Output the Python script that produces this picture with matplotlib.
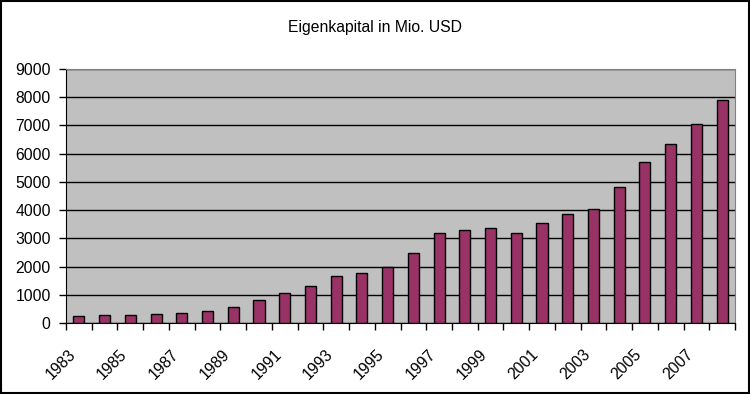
import numpy as np
import matplotlib
matplotlib.use("Agg")
import matplotlib.pyplot as plt
import matplotlib.transforms as mtransforms
from matplotlib.patches import Rectangle

years = list(range(1983, 2009))
equity = [260, 300, 300, 330, 370, 440, 580, 800, 1050, 1330,
          1650, 1760, 1990, 2480, 3190, 3300, 3370, 3190, 3550, 3870,
          4050, 4830, 5690, 6330, 7060, 7890]
title = "Eigenkapital in Mio. USD"

plt.rcParams['font.family'] = ['Liberation Sans', 'DejaVu Sans']
plt.rcParams['font.size'] = 11.3

fig = plt.figure(figsize=(7.5, 3.94), dpi=100)
ax = fig.add_axes([0.088, 0.18, 0.892, 0.645])

x = np.arange(len(years))
ax.set_facecolor("#C0C0C0")
ax.bar(x, equity, width=0.43, color="#993366", edgecolor="black", linewidth=1, zorder=3)

ax.set_ylim(0, 9000)
ax.set_yticks(range(0, 9001, 1000))
ax.yaxis.grid(True, color="black", linewidth=1, zorder=1)
ax.set_axisbelow(True)

ax.set_xlim(-0.5, len(years) - 0.5)
ax.set_xticks(x[::2])
ax.set_xticklabels([str(y) for y in years[::2]])
ax.set_xticks(np.arange(-0.5, len(years), 1), minor=True)
ax.tick_params(axis="x", which="major", length=0, pad=17)
ax.tick_params(axis="x", which="minor", length=5, width=1, direction="out", color="black")
ax.tick_params(axis="y", length=5, width=1, direction="out", pad=6)

# Beschriftung etwas nach links schieben, wie in Excel
shift = mtransforms.ScaledTranslation(-11 / 100, 0, fig.dpi_scale_trans)
for lbl in ax.get_xticklabels():
    lbl.set_rotation(45)
    lbl.set_ha("right")
    lbl.set_rotation_mode("anchor")
    lbl.set_transform(lbl.get_transform() + shift)

for side in ["top", "right"]:
    ax.spines[side].set_color("#808080")
for side in ["left", "bottom"]:
    ax.spines[side].set_color("black")

fig.text(0.5, 0.931, title, ha="center", va="center", fontsize=11.3)

# Rahmen um die ganze Grafik
fig.patches.append(Rectangle((0.001, 0.002), 0.997, 0.995, transform=fig.transFigure,
                             fill=False, edgecolor="black", linewidth=1.5))

fig.savefig("out.png", dpi=100)
